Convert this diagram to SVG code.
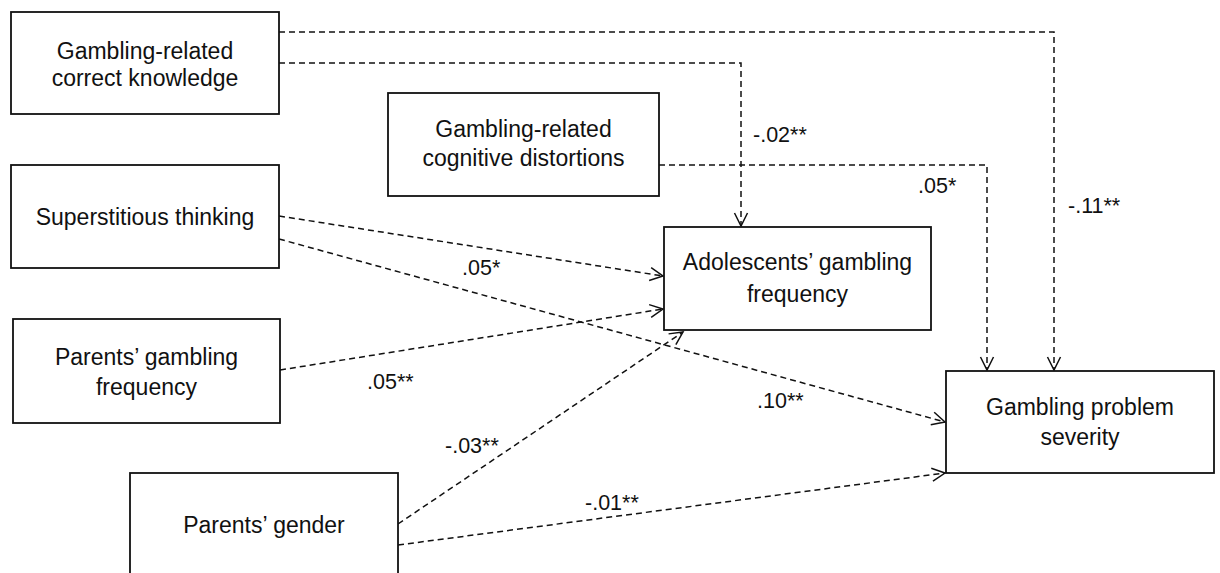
<svg xmlns="http://www.w3.org/2000/svg" width="1220" height="573" viewBox="0 0 1220 573">
<style>
.box{fill:#fff;stroke:#111;stroke-width:1.8}
.t{font-family:"Liberation Sans",Arial,sans-serif;font-size:23px;fill:#111;text-anchor:middle}
.lbl{font-family:"Liberation Sans",Arial,sans-serif;font-size:21.5px;fill:#111}
.c{fill:none;stroke:#111;stroke-width:1.5;stroke-dasharray:6,4}
</style>
<defs>
<marker id="ah" markerUnits="userSpaceOnUse" markerWidth="16" markerHeight="16" viewBox="-14 -8 16 16" refX="0" refY="0" orient="auto">
<path d="M-13,-6.5 L0,0 L-13,6.5" fill="none" stroke="#111" stroke-width="1.5" stroke-dasharray="none"/>
</marker>
</defs>
<rect width="1220" height="573" fill="#fff"/>
<g id="connectors">
<path class="c" d="M279,32 H1054 V370" marker-end="url(#ah)"/>
<path class="c" d="M279,63 H741 V226" marker-end="url(#ah)"/>
<path class="c" d="M659,165 H987 V370" marker-end="url(#ah)"/>
<path class="c" d="M279,216 L663,276" marker-end="url(#ah)"/>
<path class="c" d="M279,239 L945,422" marker-end="url(#ah)"/>
<path class="c" d="M280,370 L663,309" marker-end="url(#ah)"/>
<path class="c" d="M398,524 L683,332" marker-end="url(#ah)"/>
<path class="c" d="M398,545 L945,473" marker-end="url(#ah)"/>
<text class="lbl" x="1068" y="213">-.11**</text>
<text class="lbl" x="753" y="142">-.02**</text>
<text class="lbl" x="918" y="193">.05*</text>
<text class="lbl" x="462" y="275">.05*</text>
<text class="lbl" x="367" y="389">.05**</text>
<text class="lbl" x="757" y="408">.10**</text>
<text class="lbl" x="445" y="453">-.03**</text>
<text class="lbl" x="585" y="510">-.01**</text>
</g>
<g id="correct-knowledge">
<rect class="box" x="11" y="12" width="268" height="102"/>
<text class="t" x="145" y="59">Gambling-related</text>
<text class="t" x="145" y="86">correct knowledge</text>
</g>
<g id="cognitive-distortions">
<rect class="box" x="388" y="93" width="271" height="103"/>
<text class="t" x="523.5" y="137">Gambling-related</text>
<text class="t" x="523.5" y="166">cognitive distortions</text>
</g>
<g id="superstitious">
<rect class="box" x="11" y="165" width="268" height="103"/>
<text class="t" x="145" y="225">Superstitious thinking</text>
</g>
<g id="parents-frequency">
<rect class="box" x="13" y="319" width="267" height="104"/>
<text class="t" x="146.5" y="365">Parents’ gambling</text>
<text class="t" x="146.5" y="395">frequency</text>
</g>
<g id="parents-gender">
<rect class="box" x="130" y="473" width="268" height="104"/>
<text class="t" x="264" y="533">Parents’ gender</text>
</g>
<g id="adolescents-frequency">
<rect class="box" x="664" y="227" width="267" height="103"/>
<text class="t" x="797.5" y="270">Adolescents’ gambling</text>
<text class="t" x="797.5" y="302">frequency</text>
</g>
<g id="problem-severity">
<rect class="box" x="946" y="371" width="268" height="102"/>
<text class="t" x="1080" y="415">Gambling problem</text>
<text class="t" x="1080" y="445">severity</text>
</g>
</svg>
